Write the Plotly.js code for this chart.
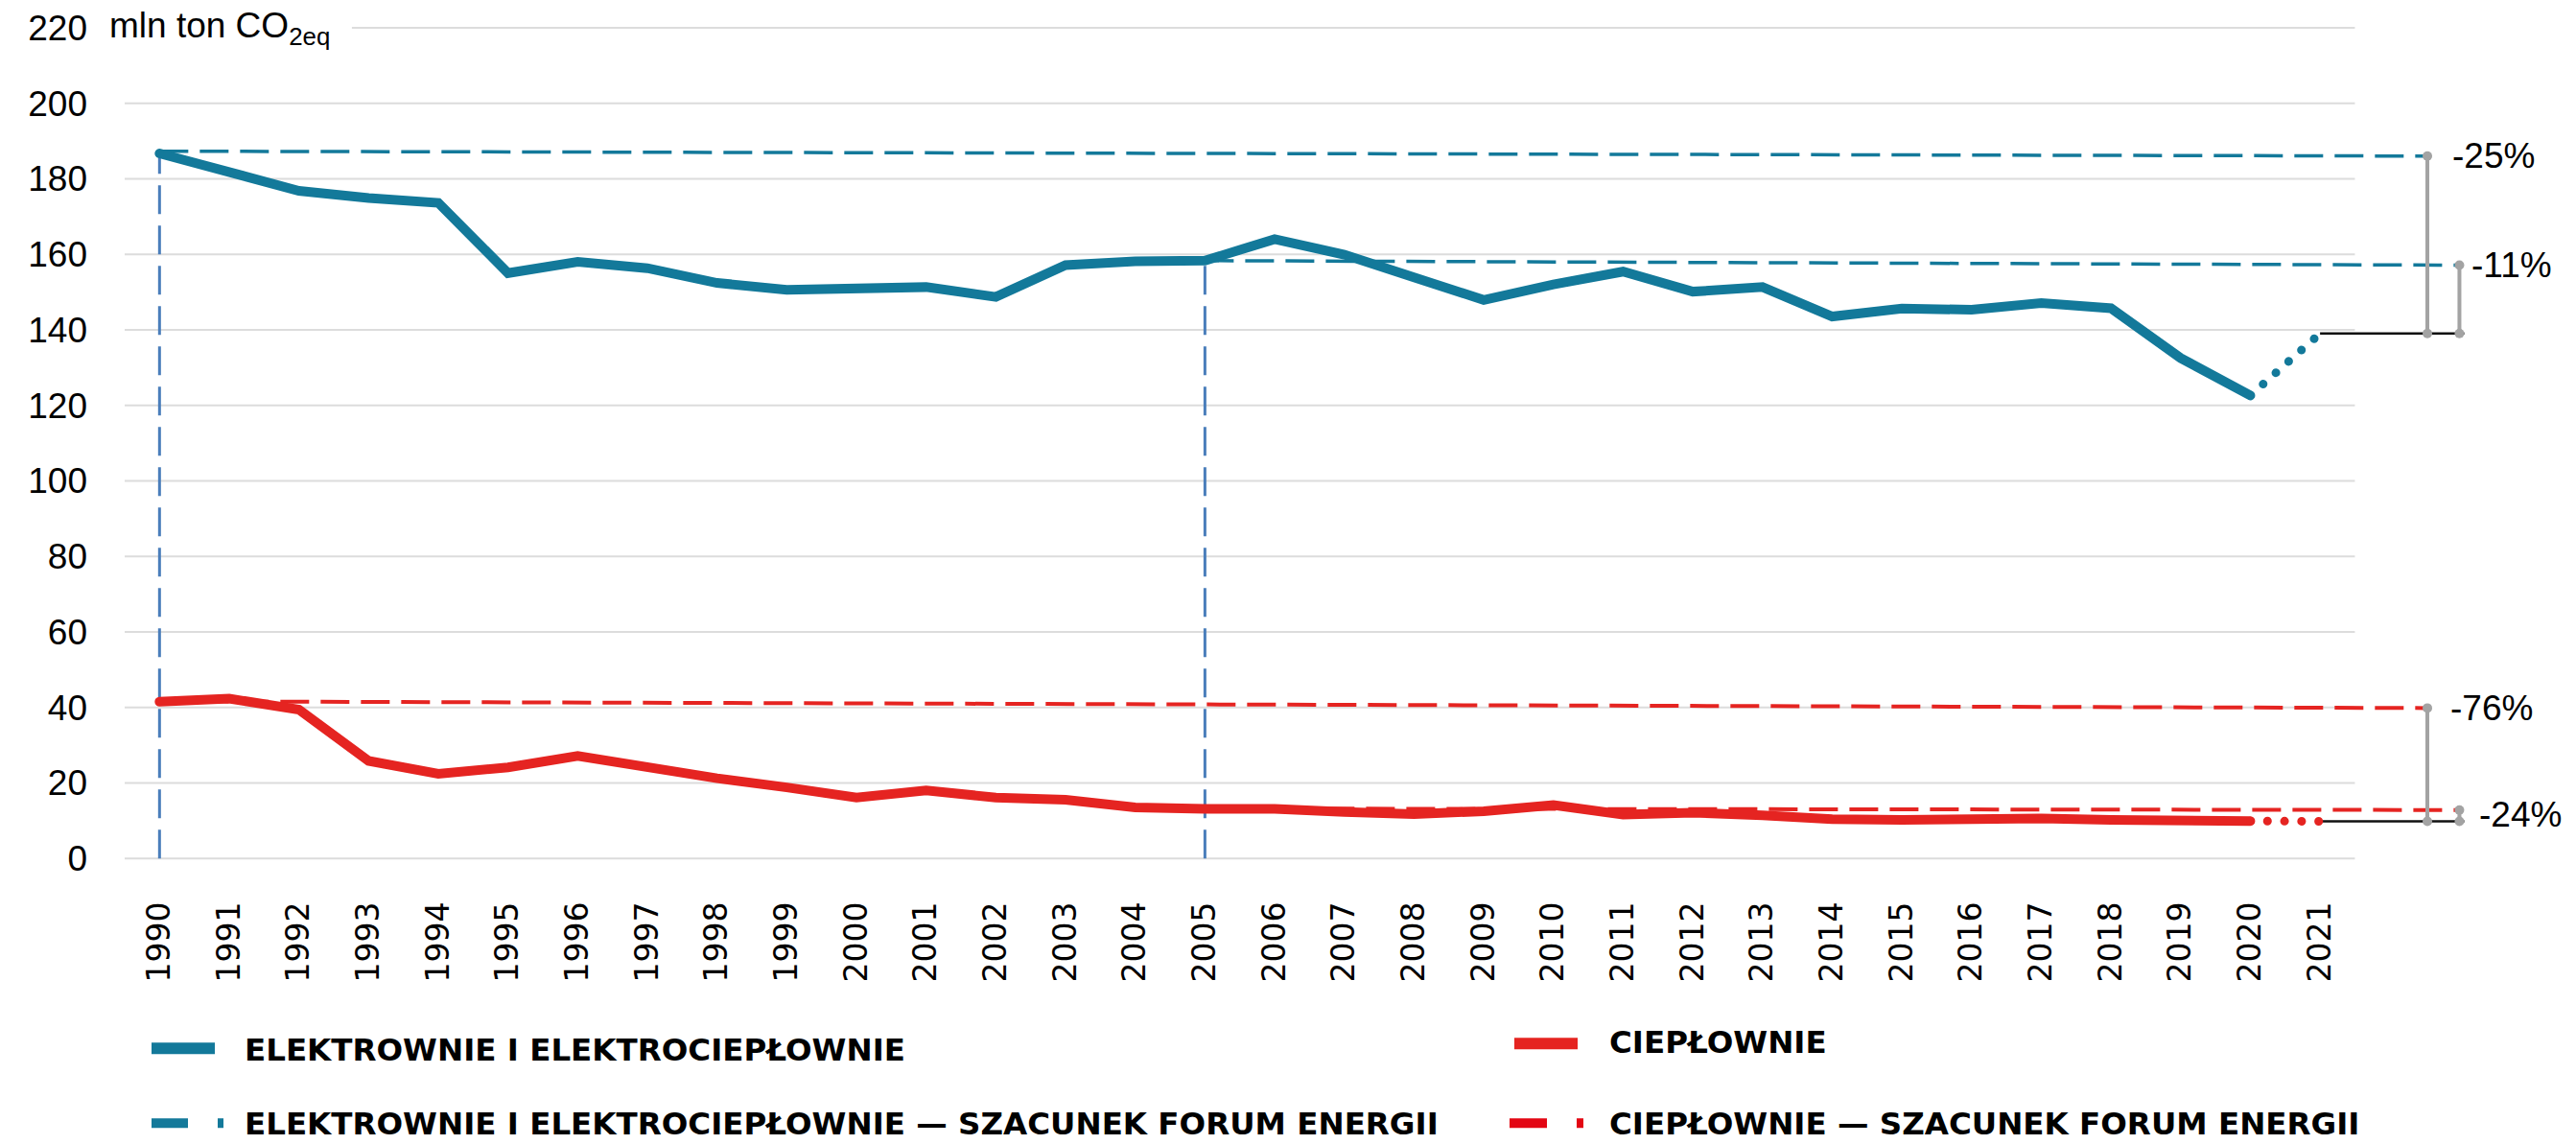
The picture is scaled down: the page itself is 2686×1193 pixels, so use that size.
<!DOCTYPE html>
<html><head><meta charset="utf-8">
<script src="https://cdn.plot.ly/plotly-3.0.1.min.js"></script>
<style>html,body{margin:0;padding:0;background:#fff;} #chart{width:2686px;height:1193px;}</style>
</head><body><div id="chart"></div>
<script>
// ---------------- DATA ----------------
const years = [1990,1991,1992,1993,1994,1995,1996,1997,1998,1999,2000,2001,2002,2003,2004,2005,2006,2007,2008,2009,2010,2011,2012,2013,2014,2015,2016,2017,2018,2019,2020,2021];
const yearLabels = ['1990','1991','1992','1993','1994','1995','1996','1997','1998','1999','2000','2001','2002','2003','2004','2005','2006','2007','2008','2009','2010','2011','2012','2013','2014','2015','2016','2017','2018','2019','2020','2021'];
const histYears = [1990,1991,1992,1993,1994,1995,1996,1997,1998,1999,2000,2001,2002,2003,2004,2005,2006,2007,2008,2009,2010,2011,2012,2013,2014,2015,2016,2017,2018,2019,2020];
const elektrownie = [186.7,182.0,176.8,174.9,173.6,155.0,158.0,156.3,152.4,150.6,150.8,151.3,148.7,157.1,158.1,158.3,164.0,159.9,153.9,147.9,152.0,155.4,150.1,151.3,143.5,145.6,145.3,147.1,145.7,132.5,122.6];
const cieplownie  = [41.5,42.3,39.4,25.8,22.4,24.1,27.1,24.1,21.2,18.8,16.1,18.0,16.1,15.5,13.5,13.1,13.1,12.3,11.7,12.5,14.1,11.6,12.1,11.4,10.4,10.2,10.6,10.6,10.2,10.0,9.9];
const estYears = [2020, 2021];
const elektrownieEst = [122.6, 139.0];
const cieplownieEst  = [9.9, 9.8];
const yTicks = [0,20,40,60,80,100,120,140,160,180,200,220];
// reference levels (start at base year, end at the connector)
const refBaseYears = [1990, 2005];
const elektroRef1990 = [187.3, 186.0];
const elektroRef2005 = [158.3, 157.1];
const cieploRef1990  = [41.6, 39.8];
const cieploRef2005  = [13.2, 12.8];
const changeLabels = ['-25%', '-11%', '-76%', '-24%'];
const legendLabels = ['ELEKTROWNIE I ELEKTROCIEPŁOWNIE', 'CIEPŁOWNIE', 'ELEKTROWNIE I ELEKTROCIEPŁOWNIE — SZACUNEK FORUM ENERGII', 'CIEPŁOWNIE — SZACUNEK FORUM ENERGII'];
const unitLabel = 'mln ton CO<sub>2eq</sub>';

// ---------------- STYLE / LAYOUT ----------------
const TEAL = '#13799a', RED = '#e52421', BLUE = '#4a7ebb', GRAY = '#a3a3a3', GRID = '#dcdcdc';
const W = 2686, H = 1193;
const plotLeft = 130, plotRight = 2600;
const pxPerYear = 72.67;
const xMin = 1989.5, xMax = xMin + (plotRight - plotLeft) / pxPerYear;
const zeroPx = 895, pxPerUnit = 3.936, yMin = -2, yMax = 222;
const mTop = zeroPx - yMax * pxPerUnit;
const plotBottom = zeroPx - yMin * pxPerUnit;
const mBottom = H - plotBottom;
const plotH = plotBottom - mTop;
const connX1 = 2022.54, connX2 = 2023.0, blackEnd = 2023.07, gridEnd = 2021.5, grid220Start = 1992.76;
const px = p => (p - plotLeft) / (plotRight - plotLeft);
const py = p => (plotBottom - p) / plotH;

const traces = [];
function line(x, y, color, width, dash, name, extra) {
  traces.push(Object.assign({x: x, y: y, mode: 'lines', name: name || 'ref', hoverinfo: 'skip', showlegend: false,
    line: {color: color, width: width, dash: dash || 'solid'}}, extra || {}));
}
// vertical base-year markers
line([refBaseYears[0], refBaseYears[0]], [0, elektroRef1990[0]], BLUE, 3, '30px,12px');
line([refBaseYears[1], refBaseYears[1]], [0, elektroRef2005[0]], BLUE, 3, '30px,12px');
// horizontal reference levels
line([refBaseYears[0], connX1], elektroRef1990, TEAL, 3.5, '30px,12px');
line([refBaseYears[1], connX2], elektroRef2005, TEAL, 3.5, '30px,12px');
line([refBaseYears[0], connX1], cieploRef1990, RED, 4, '30px,12px');
line([refBaseYears[1], connX2], cieploRef2005, RED, 4, '30px,12px');
// black target lines
line([estYears[1], blackEnd], [elektrownieEst[1], elektrownieEst[1]], '#111', 2.5);
line([estYears[1], blackEnd], [cieplownieEst[1], cieplownieEst[1]], '#111', 2.5);
// gray connectors
const conn = {mode: 'lines+markers', marker: {size: 10, color: GRAY}};
line([connX1, connX1], [elektroRef1990[1], elektrownieEst[1]], GRAY, 4, 'solid', '', conn);
line([connX2, connX2], [elektroRef2005[1], elektrownieEst[1]], GRAY, 4, 'solid', '', conn);
line([connX1, connX1], [cieploRef1990[1], cieplownieEst[1]], GRAY, 4, 'solid', '', conn);
line([connX2, connX2], [cieploRef2005[1], cieplownieEst[1]], GRAY, 4, 'solid', '', conn);
// main series
line(histYears, elektrownie, TEAL, 10, 'solid', legendLabels[0], {uid: 'mainTeal'});
line(histYears, cieplownie, RED, 10, 'solid', legendLabels[1], {uid: 'mainRed'});
line(estYears, elektrownieEst, TEAL, 9, 'dot', legendLabels[2], {uid: 'estTeal'});
line(estYears, cieplownieEst, RED, 9, 'dot', legendLabels[3], {uid: 'estRed'});

// gridlines
const shapes = yTicks.map(v => ({type: 'line', xref: 'x', yref: 'y', x0: v === 220 ? grid220Start : xMin, x1: gridEnd, y0: v, y1: v,
  line: {color: GRID, width: 2}, layer: 'below'}));
// legend swatches
function rect(x0, x1, yc, h, color) {
  shapes.push({type: 'rect', xref: 'paper', yref: 'paper', x0: px(x0), x1: px(x1), y0: py(yc + h / 2), y1: py(yc - h / 2),
    fillcolor: color, line: {width: 0}});
}
rect(158, 224, 1093, 12, TEAL);
rect(1579, 1645, 1088, 12, RED);
rect(158, 196, 1171, 10, TEAL); rect(227, 233, 1171, 10, TEAL);
rect(1574, 1613, 1171, 10, '#e30613'); rect(1644, 1651, 1171, 10, '#e30613');

const LF = {family: 'DejaVu Sans', size: 32.5, color: '#000'};
const PF = {family: 'Liberation Sans, Arial', size: 37, color: '#000'};
const annotations = [
  {xref: 'paper', yref: 'y', x: px(112), y: 220, xanchor: 'left', yanchor: 'middle', text: unitLabel, showarrow: false, font: PF},
  {xref: 'x', yref: 'y', x: connX1, xshift: 24, y: elektroRef1990[1], xanchor: 'left', yanchor: 'middle', text: changeLabels[0], showarrow: false, font: PF},
  {xref: 'x', yref: 'y', x: connX2, xshift: 11, y: elektroRef2005[1], xanchor: 'left', yanchor: 'middle', text: changeLabels[1], showarrow: false, font: PF},
  {xref: 'x', yref: 'y', x: connX1, xshift: 22, y: cieploRef1990[1], xanchor: 'left', yanchor: 'middle', text: changeLabels[2], showarrow: false, font: PF},
  {xref: 'x', yref: 'y', x: connX2, xshift: 19, y: 11.6, xanchor: 'left', yanchor: 'middle', text: changeLabels[3], showarrow: false, font: PF},
  {xref: 'paper', yref: 'paper', x: px(253), y: py(1095), xanchor: 'left', yanchor: 'middle', text: '<b>' + legendLabels[0] + '</b>', showarrow: false, font: LF},
  {xref: 'paper', yref: 'paper', x: px(1676), y: py(1087), xanchor: 'left', yanchor: 'middle', text: '<b>' + legendLabels[1] + '</b>', showarrow: false, font: LF},
  {xref: 'paper', yref: 'paper', x: px(253), y: py(1172), xanchor: 'left', yanchor: 'middle', text: '<b>' + legendLabels[2] + '</b>', showarrow: false, font: LF},
  {xref: 'paper', yref: 'paper', x: px(1676), y: py(1172), xanchor: 'left', yanchor: 'middle', text: '<b>' + legendLabels[3] + '</b>', showarrow: false, font: LF}
];

const layout = {
  width: W, height: H,
  margin: {l: plotLeft, r: W - plotRight, t: mTop, b: mBottom, pad: 0},
  paper_bgcolor: '#fff', plot_bgcolor: '#fff',
  showlegend: false,
  xaxis: {range: [xMin, xMax], tickvals: years, ticktext: yearLabels, tickangle: -90, showgrid: false, zeroline: false,
    showline: false, ticks: '', ticklabelstandoff: 30, tickfont: {family: 'DejaVu Sans', size: 33, color: '#000'}, fixedrange: true},
  yaxis: {range: [yMin, yMax], tickvals: yTicks, showgrid: false, zeroline: false, showline: false, ticks: '',
    ticklabelstandoff: 38, tickfont: PF, fixedrange: true},
  shapes: shapes,
  annotations: annotations
};

Plotly.newPlot('chart', traces, layout, {staticPlot: true, displayModeBar: false}).then(() => {
  ['estTeal', 'estRed'].forEach(id => {
    document.querySelectorAll('.trace' + id + ' path.js-line').forEach(p => {
      p.style.strokeDasharray = '0.1px,17.7px';
      p.style.strokeLinecap = 'round';
    });
  });
  ['mainTeal', 'mainRed'].forEach(id => {
    document.querySelectorAll('.trace' + id + ' path.js-line').forEach(p => { p.style.strokeLinecap = 'round'; });
  });
});
</script>
</body></html>
